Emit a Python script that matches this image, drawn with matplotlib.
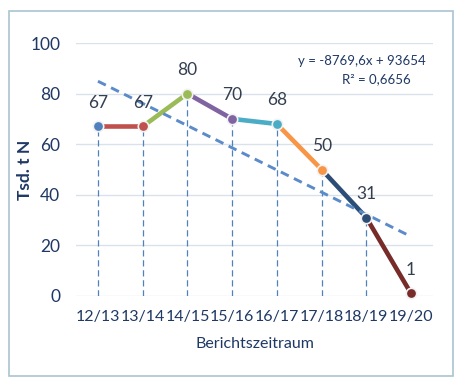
import matplotlib
matplotlib.use("Agg")
import matplotlib.pyplot as plt
from matplotlib.patches import Rectangle
import numpy as np

categories = ["12/13", "13/14", "14/15", "15/16", "16/17", "17/18", "18/19", "19/20"]
values = [67, 67, 80, 70, 68, 50, 31, 1]
point_colors = ["#4F81BD", "#C0504D", "#9BBB59", "#8064A2", "#4BACC6", "#F79646", "#2C4D75", "#772C2A"]
trend_slope = -8.7696   # Tsd. t per period
trend_intercept = 93.654
eq_text = "y = -8769,6x + 93654"
r2_text = "R² = 0,6656"
yticks = [0, 20, 40, 60, 80, 100]

plt.rcParams['font.family'] = ['Lato', 'DejaVu Sans']

fig = plt.figure(figsize=(4.63, 3.81), dpi=100)
fig.patches.append(Rectangle((9/463, 1-376/381), (453-9)/463, (376-11)/381,
                             transform=fig.transFigure, fill=False,
                             edgecolor="#A9C4D0", linewidth=1.2))
ax = fig.add_axes([75.6/463, 1-296/381, (433.4-75.6)/463, (296-43)/381])
x = np.arange(len(categories))
ax.set_xlim(-0.5, len(categories)-0.5)
ax.set_ylim(0, 100)
ax.set_yticks(yticks)
ax.set_xticks(x)
ax.set_xticklabels(categories)
for s in ax.spines.values():
    s.set_visible(False)
ax.grid(axis='y', color="#D9E1EA", linewidth=1.0)
ax.set_axisbelow(True)
ax.tick_params(length=0, labelsize=12.5, colors="#1F3864")
ax.tick_params(axis='x', pad=10, labelsize=11.5)
ax.tick_params(axis='y', pad=11)

# drop lines
ax.vlines(x[:-1], 0, values[:-1], colors="#4F81BD", linestyles=(0, (5, 3)), linewidth=0.9, zorder=1)

# segments
for i in range(1, len(x)):
    ax.plot(x[i-1:i+1], values[i-1:i+1], color=point_colors[i], linewidth=3.3,
            solid_capstyle='round', zorder=3)

# trend
tx = np.array([x[0], x[-1]])
ty = trend_slope * (tx + 1) + trend_intercept
ax.plot(tx, ty, color="#5B8BC9", linewidth=2.1, linestyle=(0, (3, 2)), zorder=4)

# markers
for i in range(len(x)):
    ax.plot(x[i], values[i], 'o', color=point_colors[i], markersize=7.5,
            markeredgecolor="#F2F2F2", markeredgewidth=1.2, zorder=5, clip_on=False)
    ax.annotate(str(values[i]), (x[i], values[i]), xytext=(0, 17), textcoords='offset points',
                ha='center', va='center', fontsize=12.5, color="#333F50", zorder=6)

fig.text(426/463, 1-61/381, eq_text, ha='right', va='center', fontsize=9.5, color="#1F3864")
fig.text(376/463, 1-79/381, r2_text, ha='center', va='center', fontsize=9.5, color="#1F3864")

fig.text(25/463, 1-170/381, "Tsd. t N", rotation=90, ha='center', va='center',
         fontsize=12.5, fontweight='bold', color="#1F3864")
fig.text(255/463, 1-344/381, "Berichtszeitraum", ha='center', va='center',
         fontsize=11.5, color="#1F3864")

fig.savefig("out.png", dpi=100)
